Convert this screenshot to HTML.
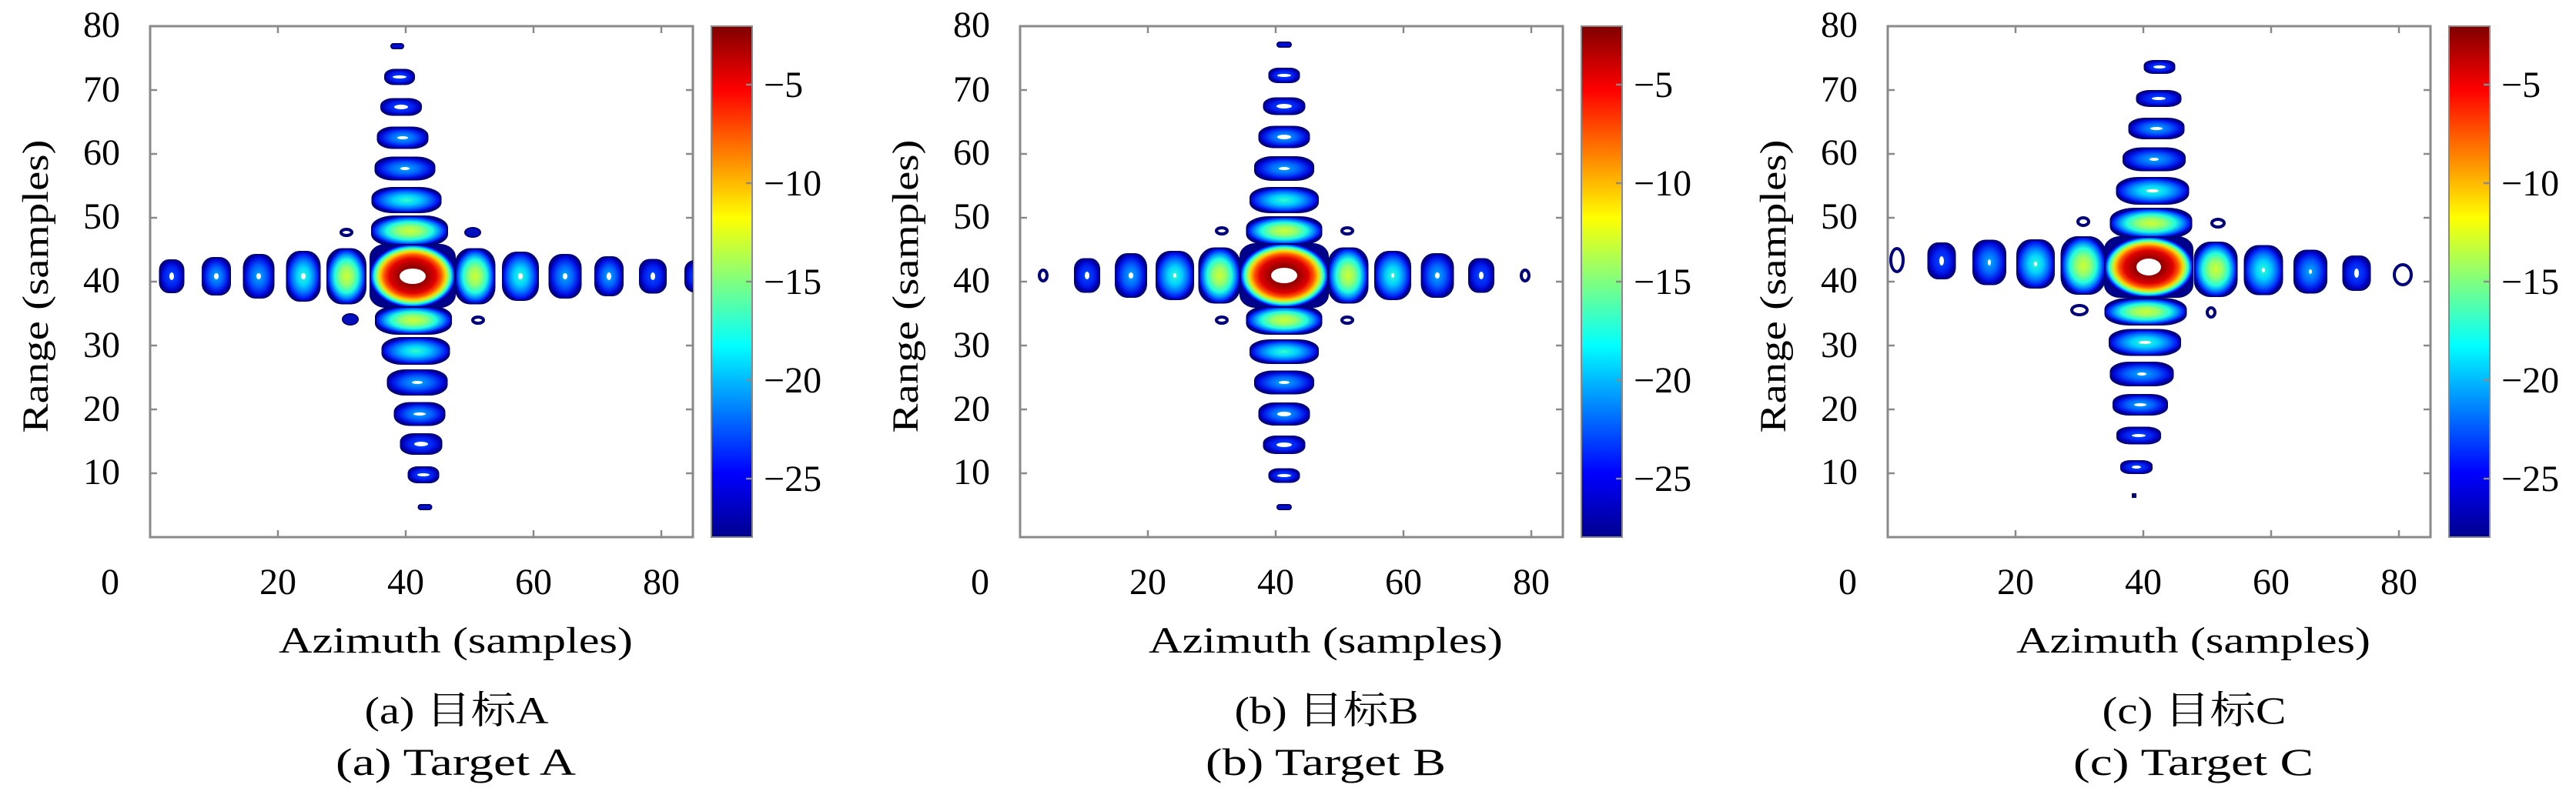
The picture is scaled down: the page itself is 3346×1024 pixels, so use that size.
<!DOCTYPE html>
<html><head><meta charset="utf-8"><style>
html,body{margin:0;padding:0;background:#fff;}
svg{display:block;}
text{font-family:"Liberation Serif","Noto Serif CJK SC","Noto Sans CJK SC",serif;fill:#000;}
.l{stroke:#00007a;stroke-width:2;}
.r{fill:none;stroke:#00007a;stroke-width:4;}
.w{fill:#fff;}
.ax{fill:none;stroke:#8a8a8a;stroke-width:3;}
.tk{stroke:#8a8a8a;stroke-width:2.5;}
</style></head><body>
<svg width="3346" height="1024" viewBox="0 0 3346 1024" xmlns="http://www.w3.org/2000/svg">
<defs>
<radialGradient id="gM" cx="0.5" cy="0.5" r="0.55">
<stop offset="0" stop-color="#800000"/><stop offset="0.3" stop-color="#9a0000"/><stop offset="0.5" stop-color="#e00000"/><stop offset="0.61" stop-color="#ff5000"/><stop offset="0.7" stop-color="#ffd000"/><stop offset="0.76" stop-color="#a0ff60"/><stop offset="0.82" stop-color="#20ffe0"/><stop offset="0.86" stop-color="#0090ff"/><stop offset="0.9" stop-color="#0010ff"/><stop offset="0.93" stop-color="#00008a"/>
</radialGradient>
<radialGradient id="g1" cx="0.5" cy="0.5" r="0.55">
<stop offset="0" stop-color="#d0ff30"/><stop offset="0.3" stop-color="#90ff70"/><stop offset="0.55" stop-color="#20ffe0"/><stop offset="0.72" stop-color="#0090ff"/><stop offset="0.85" stop-color="#0020ff"/><stop offset="0.93" stop-color="#00008a"/>
</radialGradient>
<radialGradient id="g2" cx="0.5" cy="0.5" r="0.55">
<stop offset="0" stop-color="#30ffd0"/><stop offset="0.35" stop-color="#00d0ff"/><stop offset="0.62" stop-color="#0070ff"/><stop offset="0.84" stop-color="#0010f0"/><stop offset="0.93" stop-color="#00008a"/>
</radialGradient>
<radialGradient id="g3" cx="0.5" cy="0.5" r="0.55">
<stop offset="0" stop-color="#00b0ff"/><stop offset="0.45" stop-color="#0060ff"/><stop offset="0.8" stop-color="#0008e0"/><stop offset="0.93" stop-color="#00008a"/>
</radialGradient>
<radialGradient id="g4" cx="0.5" cy="0.5" r="0.55">
<stop offset="0" stop-color="#0050ff"/><stop offset="0.55" stop-color="#0020f0"/><stop offset="0.82" stop-color="#0000c0"/><stop offset="0.93" stop-color="#00008a"/>
</radialGradient>
<linearGradient id="cb" x1="0" y1="0" x2="0" y2="1">
<stop offset="0" stop-color="#800000"/><stop offset="0.125" stop-color="#ff0000"/><stop offset="0.375" stop-color="#ffff00"/><stop offset="0.625" stop-color="#00ffff"/><stop offset="0.875" stop-color="#0000ff"/><stop offset="1" stop-color="#00008f"/>
</linearGradient>
<clipPath id="clip" clipPathUnits="userSpaceOnUse"><rect x="195" y="34" width="705" height="664"/></clipPath>
<g id="frame">
<rect class="ax" x="195" y="34" width="705" height="664"/>
<path class="tk" d="M361 698v-9M527 698v-9M693 698v-9M859 698v-9M361 34v9M527 34v9M693 34v9M859 34v9M195 615h9M195 532h9M195 449h9M195 366h9M195 283h9M195 200h9M195 117h9M900 615h-9M900 532h-9M900 449h-9M900 366h-9M900 283h-9M900 200h-9M900 117h-9"/>
<rect x="924" y="34" width="53" height="664" fill="url(#cb)" stroke="#8a8a8a" stroke-width="2"/>
<path class="tk" d="M977 110h-8M977 238h-8M977 366h-8M977 494h-8M977 622h-8"/>
<g font-size="48" text-anchor="end">
<text x="156" y="48">80</text><text x="156" y="132">70</text><text x="156" y="214">60</text><text x="156" y="297">50</text><text x="156" y="380">40</text><text x="156" y="464">30</text><text x="156" y="547">20</text><text x="156" y="629">10</text>
</g>
<g font-size="48" text-anchor="middle">
<text x="143" y="772">0</text><text x="361" y="772">20</text><text x="527" y="772">40</text><text x="693" y="772">60</text><text x="859" y="772">80</text>
</g>
<g font-size="48">
<text x="992" y="126">−5</text><text x="992" y="254">−10</text><text x="992" y="382">−15</text><text x="992" y="510">−20</text><text x="992" y="638">−25</text>
</g>
<text x="592" y="848" font-size="48" text-anchor="middle" textLength="460" lengthAdjust="spacingAndGlyphs">Azimuth (samples)</text>
<text transform="translate(62,372) rotate(-90)" font-size="48" text-anchor="middle" textLength="381" lengthAdjust="spacingAndGlyphs">Range (samples)</text>
</g>
</defs>

<!-- Panel A -->
<g>
<use href="#frame"/>
<g clip-path="url(#clip)">
<rect class="l" transform="translate(223 359)" x="-15.5" y="-21" width="31" height="42" rx="12" ry="13" fill="url(#g4)"/>
<rect class="l" transform="translate(281 359)" x="-18" y="-24" width="36" height="48" rx="14" ry="14" fill="url(#g3)"/>
<rect class="l" transform="translate(336 359)" x="-19.5" y="-28" width="39" height="56" rx="15" ry="17" fill="url(#g3)"/>
<rect class="l" transform="translate(394 359)" x="-21.5" y="-32" width="43" height="64" rx="17" ry="19" fill="url(#g2)"/>
<rect class="l" transform="translate(450 359)" x="-25" y="-35.5" width="50" height="71" rx="19" ry="21" fill="url(#g1)"/>
<rect class="l" transform="translate(617 359)" x="-25.5" y="-35.5" width="51" height="71" rx="19" ry="21" fill="url(#g1)"/>
<rect class="l" transform="translate(676 359)" x="-23" y="-31" width="46" height="62" rx="18" ry="19" fill="url(#g2)"/>
<rect class="l" transform="translate(734 359)" x="-20.5" y="-28" width="41" height="56" rx="16" ry="17" fill="url(#g3)"/>
<rect class="l" transform="translate(791 359)" x="-18" y="-25" width="36" height="50" rx="14" ry="15" fill="url(#g3)"/>
<rect class="l" transform="translate(848 359)" x="-17" y="-21.5" width="34" height="43" rx="13" ry="13" fill="url(#g4)"/>
<rect class="l" transform="translate(905 359)" x="-15" y="-20" width="30" height="40" rx="12" ry="12" fill="url(#g4)"/>
<rect class="l" transform="translate(516 60)" x="-8" y="-3" width="16" height="6" rx="3" ry="3" fill="#0010d0"/>
<rect class="l" transform="translate(519 100)" x="-19" y="-9.5" width="38" height="19" rx="12" ry="8" fill="url(#g4)"/>
<rect class="l" transform="translate(521 139)" x="-26" y="-10.5" width="52" height="21" rx="16" ry="9" fill="url(#g4)"/>
<rect class="l" transform="translate(523 179)" x="-32.5" y="-13.5" width="65" height="27" rx="20" ry="11" fill="url(#g3)"/>
<rect class="l" transform="translate(526 219)" x="-38.5" y="-14.5" width="77" height="29" rx="23" ry="12" fill="url(#g3)"/>
<rect class="l" transform="translate(528 260)" x="-44.5" y="-16" width="89" height="32" rx="27" ry="13" fill="url(#g2)"/>
<rect class="l" transform="translate(532 300)" x="-49" y="-19" width="98" height="38" rx="29" ry="15" fill="url(#g1)"/>
<rect class="l" transform="translate(537 416)" x="-49" y="-18" width="98" height="36" rx="29" ry="14" fill="url(#g1)"/>
<rect class="l" transform="translate(540 456)" x="-43.5" y="-17" width="87" height="34" rx="26" ry="14" fill="url(#g2)"/>
<rect class="l" transform="translate(542 497)" x="-38.5" y="-16" width="77" height="32" rx="23" ry="13" fill="url(#g3)"/>
<rect class="l" transform="translate(545 538)" x="-32.5" y="-14.5" width="65" height="29" rx="20" ry="12" fill="url(#g3)"/>
<rect class="l" transform="translate(547 577)" x="-26.5" y="-13" width="53" height="26" rx="16" ry="10" fill="url(#g4)"/>
<rect class="l" transform="translate(550 617)" x="-19.5" y="-10" width="39" height="20" rx="12" ry="8" fill="url(#g4)"/>
<rect class="l" transform="translate(552 659)" x="-8.5" y="-3" width="17" height="6" rx="3" ry="3" fill="#0010d0"/>
<rect class="l" x="481" y="318" width="110" height="81" rx="20" ry="16" fill="url(#gM)"/>
<ellipse class="w" cx="536" cy="359" rx="17" ry="10"/>
<g class="w">
<ellipse cx="336" cy="359" rx="3" ry="4"/><ellipse cx="281" cy="359" rx="3" ry="4"/><ellipse cx="223" cy="359" rx="3" ry="5"/><ellipse cx="394" cy="359" rx="3" ry="4"/>
<ellipse cx="676" cy="359" rx="3" ry="4"/><ellipse cx="734" cy="359" rx="3" ry="4"/><ellipse cx="791" cy="359" rx="3" ry="5"/><ellipse cx="848" cy="359" rx="3" ry="5"/>
<ellipse cx="519" cy="100" rx="9" ry="2"/><ellipse cx="521" cy="139" rx="9" ry="3"/><ellipse cx="523" cy="179" rx="7" ry="2"/><ellipse cx="526" cy="219" rx="6" ry="2"/>
<ellipse cx="542" cy="497" rx="7" ry="2"/><ellipse cx="545" cy="538" rx="8" ry="2"/><ellipse cx="547" cy="577" rx="9" ry="3"/><ellipse cx="550" cy="617" rx="8" ry="2"/>
</g>
<ellipse class="r" cx="450" cy="302" rx="7" ry="4"/>
<ellipse cx="614" cy="302" rx="10" ry="6" fill="#0010c0" stroke="#00007a" stroke-width="2"/>
<ellipse cx="455" cy="415" rx="10" ry="7" fill="#0010c0" stroke="#00007a" stroke-width="2"/>
<ellipse class="r" cx="621" cy="416" rx="7" ry="4"/>
</g>
<text x="593" y="940" font-size="50" text-anchor="middle" textLength="239" lengthAdjust="spacingAndGlyphs">(a) 目标A</text>
<text x="592" y="1007" font-size="50" text-anchor="middle" textLength="312" lengthAdjust="spacingAndGlyphs">(a) Target A</text>
</g>

<!-- Panel B -->
<g transform="translate(1130 0)">
<use href="#frame"/>
<g clip-path="url(#clip)">
<ellipse class="r" cx="225" cy="358" rx="5" ry="7"/>
<rect class="l" transform="translate(282 358)" x="-16" y="-21.5" width="32" height="43" rx="12" ry="13" fill="url(#g4)"/>
<rect class="l" transform="translate(339 358)" x="-20" y="-28" width="40" height="56" rx="15" ry="17" fill="url(#g3)"/>
<rect class="l" transform="translate(396 358)" x="-24" y="-31" width="48" height="62" rx="18" ry="19" fill="url(#g2)"/>
<rect class="l" transform="translate(454 358)" x="-26.5" y="-35.5" width="53" height="71" rx="20" ry="21" fill="url(#g1)"/>
<rect class="l" transform="translate(621 358)" x="-25.5" y="-35.5" width="51" height="71" rx="19" ry="21" fill="url(#g1)"/>
<rect class="l" transform="translate(679 358)" x="-23" y="-31" width="46" height="62" rx="18" ry="19" fill="url(#g2)"/>
<rect class="l" transform="translate(737 358)" x="-20.5" y="-28" width="41" height="56" rx="16" ry="17" fill="url(#g3)"/>
<rect class="l" transform="translate(794 358)" x="-16" y="-21.5" width="32" height="43" rx="12" ry="13" fill="url(#g4)"/>
<ellipse class="r" cx="851" cy="358" rx="5" ry="7"/>
<rect class="l" transform="translate(538 58)" x="-9" y="-3" width="18" height="6" rx="3" ry="3" fill="#0010d0"/>
<rect class="l" transform="translate(538 98)" x="-19.5" y="-9" width="39" height="18" rx="12" ry="7" fill="url(#g4)"/>
<rect class="l" transform="translate(538 138)" x="-26.5" y="-10.5" width="53" height="21" rx="16" ry="9" fill="url(#g4)"/>
<rect class="l" transform="translate(538 178)" x="-32.5" y="-13.5" width="65" height="27" rx="20" ry="11" fill="url(#g3)"/>
<rect class="l" transform="translate(538 219)" x="-38" y="-15" width="76" height="30" rx="23" ry="12" fill="url(#g3)"/>
<rect class="l" transform="translate(538 260)" x="-44" y="-16" width="88" height="32" rx="26" ry="13" fill="url(#g2)"/>
<rect class="l" transform="translate(538 300)" x="-48.5" y="-18" width="97" height="36" rx="29" ry="14" fill="url(#g1)"/>
<rect class="l" transform="translate(538 416)" x="-48.5" y="-18" width="97" height="36" rx="29" ry="14" fill="url(#g1)"/>
<rect class="l" transform="translate(538 457)" x="-44" y="-15" width="88" height="30" rx="26" ry="12" fill="url(#g2)"/>
<rect class="l" transform="translate(538 497)" x="-38" y="-14.5" width="76" height="29" rx="23" ry="12" fill="url(#g3)"/>
<rect class="l" transform="translate(538 538)" x="-32.5" y="-14" width="65" height="28" rx="20" ry="11" fill="url(#g3)"/>
<rect class="l" transform="translate(538 578)" x="-26.5" y="-11" width="53" height="22" rx="16" ry="9" fill="url(#g4)"/>
<rect class="l" transform="translate(538 618)" x="-19.5" y="-8.5" width="39" height="17" rx="12" ry="7" fill="url(#g4)"/>
<rect class="l" transform="translate(538 659)" x="-9" y="-3" width="18" height="6" rx="3" ry="3" fill="#0010d0"/>
<rect class="l" x="481" y="317" width="114" height="82" rx="20" ry="16" fill="url(#gM)"/>
<ellipse class="w" cx="538" cy="358" rx="17" ry="10"/>
<g class="w">
<ellipse cx="282" cy="358" rx="3" ry="5"/><ellipse cx="339" cy="358" rx="3" ry="4"/><ellipse cx="396" cy="358" rx="2" ry="3"/>
<ellipse cx="679" cy="358" rx="2" ry="3"/><ellipse cx="737" cy="358" rx="3" ry="4"/><ellipse cx="794" cy="358" rx="3" ry="5"/>
<ellipse cx="538" cy="98" rx="9" ry="2"/><ellipse cx="538" cy="138" rx="10" ry="3"/><ellipse cx="538" cy="178" rx="9" ry="3"/><ellipse cx="538" cy="219" rx="7" ry="2"/>
<ellipse cx="538" cy="497" rx="7" ry="2"/><ellipse cx="538" cy="538" rx="9" ry="3"/><ellipse cx="538" cy="578" rx="10" ry="3"/><ellipse cx="538" cy="618" rx="9" ry="2"/>
</g>
<ellipse class="r" cx="457" cy="300" rx="7" ry="4"/><ellipse class="r" cx="620" cy="300" rx="7" ry="4"/>
<ellipse class="r" cx="457" cy="416" rx="7" ry="4"/><ellipse class="r" cx="620" cy="416" rx="7" ry="4"/>
</g>
<text x="593" y="940" font-size="50" text-anchor="middle" textLength="239" lengthAdjust="spacingAndGlyphs">(b) 目标B</text>
<text x="592" y="1007" font-size="50" text-anchor="middle" textLength="312" lengthAdjust="spacingAndGlyphs">(b) Target B</text>
</g>

<!-- Panel C -->
<g transform="translate(2257 0)">
<use href="#frame"/>
<g clip-path="url(#clip)">
<ellipse class="r" cx="207" cy="338" rx="8" ry="15"/>
<rect class="l" transform="translate(265 339)" x="-17.5" y="-23" width="35" height="46" rx="13" ry="14" fill="url(#g4)"/>
<rect class="l" transform="translate(327 341)" x="-21" y="-28.5" width="42" height="57" rx="16" ry="17" fill="url(#g3)"/>
<rect class="l" transform="translate(387 343)" x="-24" y="-31" width="48" height="62" rx="18" ry="19" fill="url(#g2)"/>
<rect class="l" transform="translate(449 345)" x="-28.5" y="-37" width="57" height="74" rx="21" ry="22" fill="url(#g1)"/>
<rect class="l" transform="translate(621 350)" x="-27.5" y="-35" width="55" height="70" rx="21" ry="21" fill="url(#g1)"/>
<rect class="l" transform="translate(683 351)" x="-24.5" y="-31.5" width="49" height="63" rx="18" ry="19" fill="url(#g2)"/>
<rect class="l" transform="translate(744 353)" x="-21" y="-27.5" width="42" height="55" rx="16" ry="16" fill="url(#g3)"/>
<rect class="l" transform="translate(804 355)" x="-17.5" y="-22" width="35" height="44" rx="13" ry="13" fill="url(#g4)"/>
<ellipse class="r" cx="864" cy="357" rx="11" ry="13"/>
<rect class="l" transform="translate(548 87)" x="-19.5" y="-8" width="39" height="16" rx="12" ry="6" fill="url(#g4)"/>
<rect class="l" transform="translate(547 128)" x="-28.5" y="-10" width="57" height="20" rx="17" ry="8" fill="url(#g4)"/>
<rect class="l" transform="translate(544 167)" x="-35.5" y="-13" width="71" height="26" rx="21" ry="10" fill="url(#g3)"/>
<rect class="l" transform="translate(541 207)" x="-40" y="-14.5" width="80" height="29" rx="24" ry="12" fill="url(#g3)"/>
<rect class="l" transform="translate(539 248)" x="-46.5" y="-17" width="93" height="34" rx="28" ry="14" fill="url(#g2)"/>
<rect class="l" transform="translate(537 290)" x="-52.5" y="-19" width="105" height="38" rx="31" ry="15" fill="url(#g1)"/>
<rect class="l" transform="translate(530 405)" x="-52.5" y="-17" width="105" height="34" rx="31" ry="14" fill="url(#g1)"/>
<rect class="l" transform="translate(529 445)" x="-46" y="-16.5" width="92" height="33" rx="28" ry="13" fill="url(#g2)"/>
<rect class="l" transform="translate(525 486)" x="-40.5" y="-15" width="81" height="30" rx="24" ry="12" fill="url(#g3)"/>
<rect class="l" transform="translate(523 526)" x="-35" y="-13" width="70" height="26" rx="21" ry="10" fill="url(#g3)"/>
<rect class="l" transform="translate(521 566)" x="-28" y="-10.5" width="56" height="21" rx="17" ry="8" fill="url(#g4)"/>
<rect class="l" transform="translate(518 607)" x="-20" y="-8" width="40" height="16" rx="12" ry="6" fill="url(#g4)"/>
<rect x="512" y="641" width="6" height="6" fill="#00007a"/>
<rect class="l" x="477" y="308" width="114" height="78" rx="20" ry="16" fill="url(#gM)"/>
<ellipse class="w" cx="534" cy="347" rx="16" ry="11"/>
<g class="w">
<ellipse cx="265" cy="339" rx="3" ry="6"/><ellipse cx="327" cy="341" rx="2" ry="4"/><ellipse cx="387" cy="343" rx="2" ry="3"/>
<ellipse cx="683" cy="351" rx="2" ry="3"/><ellipse cx="744" cy="353" rx="2" ry="3"/><ellipse cx="804" cy="355" rx="3" ry="6"/>
<ellipse cx="548" cy="87" rx="8" ry="2"/><ellipse cx="547" cy="128" rx="9" ry="2"/><ellipse cx="544" cy="167" rx="8" ry="2"/><ellipse cx="541" cy="207" rx="6" ry="2"/><ellipse cx="539" cy="248" rx="8" ry="2"/>
<ellipse cx="529" cy="445" rx="8" ry="2"/><ellipse cx="525" cy="486" rx="6" ry="2"/><ellipse cx="523" cy="526" rx="8" ry="2"/><ellipse cx="521" cy="566" rx="9" ry="2"/><ellipse cx="518" cy="607" rx="6" ry="2"/>
</g>
<ellipse class="r" cx="449" cy="288" rx="7" ry="5"/><ellipse class="r" cx="624" cy="290" rx="8" ry="5"/>
<ellipse class="r" cx="444" cy="403" rx="10" ry="6"/><ellipse class="r" cx="615" cy="406" rx="5" ry="6"/>
</g>
<text x="593" y="940" font-size="50" text-anchor="middle" textLength="239" lengthAdjust="spacingAndGlyphs">(c) 目标C</text>
<text x="592" y="1007" font-size="50" text-anchor="middle" textLength="312" lengthAdjust="spacingAndGlyphs">(c) Target C</text>
</g>
</svg>
</body></html>
